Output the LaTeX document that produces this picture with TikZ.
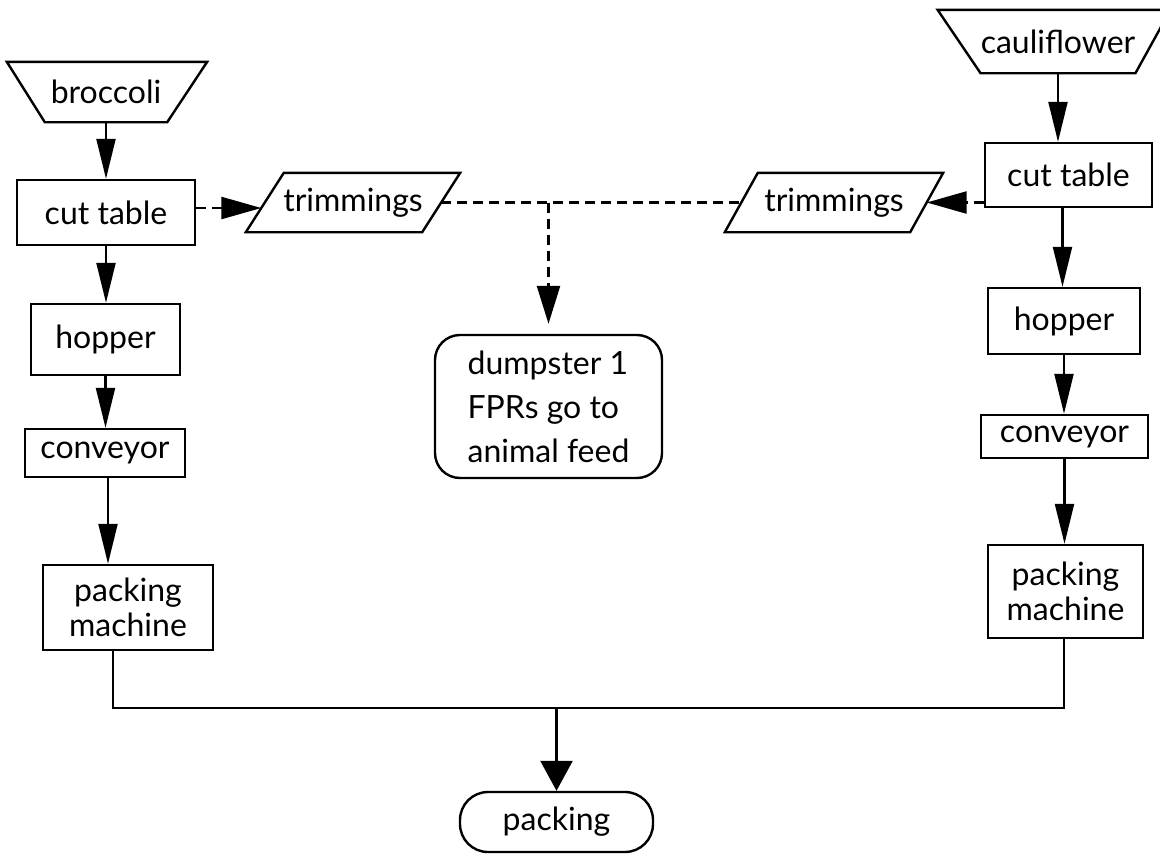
\documentclass[tikz,border=0pt]{standalone}
\usepackage{fontspec}
\setmainfont{Lato}
\usetikzlibrary{arrows.meta,calc}
\begin{document}
\begin{tikzpicture}[x=1pt,y=-1pt,
  every node/.style={font=\fontsize{32}{38}\selectfont},
  box/.style={draw, line width=2.4pt, inner sep=0pt, align=center},
  ghost/.style={inner sep=0pt, align=center},
  outline/.style={line width=2.4pt, line join=miter},
  flow/.style={line width=2.2pt, -{Triangle[length=40pt,width=19pt]}},
  dflow/.style={line width=2.4pt, dash pattern=on 10pt off 6pt, -{Triangle[length=40pt,width=22pt]}},
  dline/.style={line width=2.4pt, dash pattern=on 10pt off 6pt},
  mergeline/.style={line width=2.4pt}]
\useasboundingbox (0,0) rectangle (1160,854);

% ---------- left column ----------
\node[ghost, minimum width=122pt, minimum height=60pt] (broc) at (106,92) {broccoli};
\draw[outline] (broc.south west) -- ($(broc.north west)+(-38,0)$) -- ($(broc.north east)+(40,0)$) -- (broc.south east) -- cycle;
\node[box, minimum width=178pt, minimum height=65pt] (cut1) at (106,212.5) {cut table};
\node[box, minimum width=149pt, minimum height=71pt] (hop1) at (105.5,339.5) {hopper};
\node[box, minimum width=160pt, minimum height=48pt] (conv1) at (105,453) {conveyor};
\node[box, minimum width=170pt, minimum height=85pt, font=\fontsize{32}{35}\selectfont] (pack1) at (128,607.5) {packing\\machine};

% ---------- right column ----------
\node[ghost, minimum width=130pt, minimum height=63pt] (caul) at (1058,41.5) {cauliflower};
\draw[outline] (caul.south west) -- ($(caul.north west)+(-43,0)$) -- ($(caul.north east)+(35,0)$) -- (caul.south east) -- cycle;
\node[box, minimum width=167pt, minimum height=64pt] (cut2) at (1068.5,175) {cut table};
\node[box, minimum width=152pt, minimum height=66pt] (hop2) at (1064,321) {hopper};
\node[box, minimum width=167pt, minimum height=43pt] (conv2) at (1064.5,436.5) {conveyor};
\node[box, minimum width=155pt, minimum height=93pt, font=\fontsize{32}{35}\selectfont] (pack2) at (1065.5,591.5) {packing\\machine};

% ---------- trimmings ----------
\node[ghost, minimum width=176pt, minimum height=59pt] (trim1) at (353,202.5) {trimmings};
\draw[outline] ($(trim1.south west)+(-19,0)$) -- ($(trim1.north west)+(19,0)$) -- ($(trim1.north east)+(19,0)$) -- ($(trim1.south east)+(-19,0)$) -- cycle;
\node[ghost, minimum width=185pt, minimum height=59pt] (trim2) at (834,202.5) {trimmings};
\draw[outline] ($(trim2.south west)+(-16.5,0)$) -- ($(trim2.north west)+(16.5,0)$) -- ($(trim2.north east)+(16.5,0)$) -- ($(trim2.south east)+(-16.5,0)$) -- cycle;

% ---------- dumpster and packing ----------
\node[box, rounded corners=25pt, minimum width=227pt, minimum height=143pt, align=left, font=\fontsize{32}{44}\selectfont] (dump) at (548.5,406.5) {dumpster 1\\FPRs go to\\animal feed};
\node[box, rounded corners=28pt, minimum width=193pt, minimum height=60pt] (pack) at (556.5,822) {packing};

% ---------- connectors ----------
\draw[flow] (broc.south) -- (broc.south |- cut1.north);
\draw[flow] (cut1.south) -- (cut1.south |- hop1.north);
\draw[flow] (hop1.south) -- (hop1.south |- conv1.north);
\draw[flow] ($(conv1.south)+(3,0)$) -- ($(conv1.south |- pack1.north)+(3,0)$);

\draw[flow] (caul.south) -- (caul.south |- cut2.north);
\draw[flow] ($(cut2.south)+(-6,0)$) -- ($(cut2.south |- hop2.north)+(-6,0)$);
\draw[flow] (hop2.south) -- (hop2.south |- conv2.north);
\draw[flow] (conv2.south) -- (conv2.south |- pack2.north);

\draw[dflow] ($(cut1.east)+(0,-4.5)$) -- ($(trim1.west)+(-3.5,5.5)$);
\draw[dflow] (trim2.east -| cut2.west) -- (trim2.east);
\draw[dline] (trim1.east) -- (trim2.west);
\coordinate (split) at (dump.north |- trim1.east);
\draw[dflow, -{Triangle[length=38pt,width=23pt]}, shorten >=10pt] (split) -- (dump.north);

\coordinate (j1) at (113,708);
\coordinate (j2) at (1064,708);
\coordinate (jm) at (pack.north |- j1);
\draw[mergeline] (pack1.south -| j1) -- (j1) -- (j2) -- (pack2.south -| j2);
\draw[line width=2.4pt, -{Triangle[length=30pt,width=32pt]}] (jm) -- (pack.north);
\end{tikzpicture}
\end{document}
